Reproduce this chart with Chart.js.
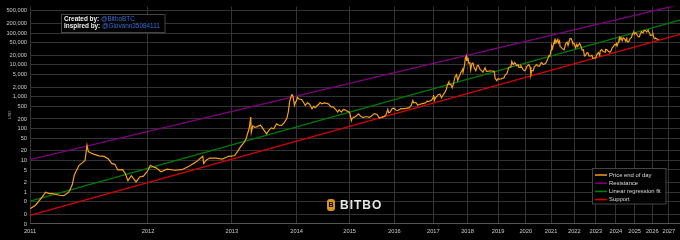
<!DOCTYPE html>
<html>
<head>
<meta charset="utf-8">
<script src="https://cdn.jsdelivr.net/npm/chart.js@4.4.1/dist/chart.umd.min.js"></script>
<style>
  html, body { margin: 0; background: #000; }
  #wrap { width: 680px; height: 240px; }
</style>
</head>
<body>
<div id="wrap"><canvas id="chart"></canvas></div>
<script>
// BTC price (USD), end of day, sampled
const priceDates = [
  '2011-01-01','2011-01-15','2011-02-01','2011-02-10','2011-02-20','2011-03-01','2011-03-20','2011-04-01','2011-04-15','2011-04-25',
  '2011-05-01','2011-05-15','2011-05-25','2011-06-02','2011-06-08','2011-06-12','2011-06-20','2011-07-01','2011-07-15','2011-08-01',
  '2011-08-15','2011-08-25','2011-09-05','2011-09-15','2011-10-01','2011-10-10','2011-10-20','2011-11-01','2011-11-18','2011-12-01',
  '2011-12-15','2011-12-31',
  '2012-01-10','2012-01-20','2012-02-01','2012-02-20','2012-03-15','2012-04-15','2012-05-15','2012-06-15','2012-07-15','2012-08-15',
  '2012-08-19','2012-09-01','2012-09-15','2012-10-15','2012-11-15','2012-12-15','2012-12-31',
  '2013-01-15','2013-02-01','2013-02-15','2013-03-01','2013-03-15','2013-04-01','2013-04-09','2013-04-12','2013-04-20','2013-05-01',
  '2013-05-15','2013-06-01','2013-06-15','2013-07-05','2013-07-20','2013-08-01','2013-08-15','2013-09-01','2013-09-15','2013-10-01',
  '2013-10-15','2013-11-01','2013-11-10','2013-11-18','2013-11-30','2013-12-05','2013-12-10','2013-12-18','2013-12-25','2013-12-31',
  '2014-01-05','2014-01-15','2014-02-01','2014-02-15','2014-02-25','2014-03-10','2014-03-25','2014-04-10','2014-04-20','2014-05-01',
  '2014-05-25','2014-06-03','2014-06-15','2014-07-01','2014-07-20','2014-08-01','2014-08-18','2014-09-01','2014-09-20','2014-10-05',
  '2014-10-15','2014-11-01','2014-11-15','2014-12-01','2014-12-15','2014-12-31',
  '2015-01-05','2015-01-14','2015-01-20','2015-02-01','2015-02-15','2015-03-10','2015-03-25','2015-04-15','2015-05-01','2015-05-20',
  '2015-06-01','2015-06-20','2015-07-10','2015-07-25','2015-08-10','2015-08-25','2015-09-15','2015-10-01','2015-10-20','2015-11-04',
  '2015-11-12','2015-11-25','2015-12-10','2015-12-20','2015-12-31',
  '2016-01-15','2016-02-01','2016-02-15','2016-03-01','2016-03-15','2016-04-15','2016-05-15','2016-06-01','2016-06-16','2016-06-25',
  '2016-07-15','2016-08-02','2016-08-15','2016-09-15','2016-10-15','2016-11-01','2016-11-15','2016-12-01','2016-12-15','2016-12-31',
  '2017-01-04','2017-01-12','2017-01-20','2017-02-01','2017-02-23','2017-03-10','2017-03-25','2017-04-15','2017-05-01','2017-05-15',
  '2017-05-25','2017-06-11','2017-06-15','2017-07-01','2017-07-16','2017-08-01','2017-08-15','2017-09-01','2017-09-14','2017-10-01',
  '2017-10-20','2017-11-08','2017-11-12','2017-11-28','2017-12-07','2017-12-17','2017-12-22','2017-12-31',
  '2018-01-06','2018-01-16','2018-01-28','2018-02-06','2018-02-20','2018-03-05','2018-03-18','2018-04-06','2018-04-24','2018-05-05',
  '2018-05-28','2018-06-15','2018-06-29','2018-07-24','2018-08-10','2018-09-05','2018-09-20','2018-10-15','2018-11-14','2018-11-25',
  '2018-12-15','2018-12-31',
  '2019-01-15','2019-02-08','2019-02-25','2019-03-15','2019-04-02','2019-04-25','2019-05-14','2019-05-30','2019-06-15','2019-06-26',
  '2019-07-15','2019-08-06','2019-08-29','2019-09-20','2019-09-25','2019-10-15','2019-10-26','2019-11-25','2019-12-17','2019-12-31',
  '2020-01-15','2020-02-12','2020-03-01','2020-03-12','2020-03-25','2020-04-15','2020-04-30','2020-05-15','2020-06-01','2020-06-27',
  '2020-07-15','2020-08-01','2020-08-15','2020-09-05','2020-09-25','2020-10-15','2020-10-30','2020-11-15','2020-11-30','2020-12-15',
  '2020-12-31',
  '2021-01-08','2021-01-22','2021-02-08','2021-02-21','2021-02-28','2021-03-13','2021-03-25','2021-04-14','2021-04-25','2021-05-10',
  '2021-05-19','2021-06-01','2021-06-22','2021-07-20','2021-08-15','2021-09-06','2021-09-21','2021-10-20','2021-11-10','2021-11-25',
  '2021-12-04','2021-12-31',
  '2022-01-22','2022-02-10','2022-02-24','2022-03-28','2022-04-15','2022-05-12','2022-06-01','2022-06-18','2022-07-01','2022-07-30',
  '2022-08-15','2022-09-07','2022-10-01','2022-10-25','2022-11-09','2022-11-25','2022-12-30',
  '2023-01-15','2023-02-15','2023-03-10','2023-03-20','2023-04-14','2023-05-12','2023-06-15','2023-06-23','2023-07-15','2023-08-17',
  '2023-09-11','2023-10-01','2023-10-24','2023-11-15','2023-12-08','2023-12-31',
  '2024-01-11','2024-01-23','2024-02-15','2024-02-28','2024-03-13','2024-03-20','2024-04-08','2024-05-01','2024-05-20','2024-06-15',
  '2024-07-05','2024-07-28','2024-08-05','2024-09-06','2024-09-27','2024-10-29','2024-11-11','2024-11-22','2024-12-05','2024-12-16',
  '2024-12-31',
  '2025-01-20','2025-02-03','2025-02-26','2025-03-10','2025-04-08','2025-04-25','2025-05-22','2025-06-22','2025-07-14','2025-08-14',
  '2025-09-01','2025-10-06','2025-10-10','2025-11-04','2025-11-21','2025-12-01','2025-12-15','2025-12-31',
  '2026-01-15','2026-02-05','2026-02-20','2026-03-10','2026-04-01','2026-05-01','2026-05-20'
];
const priceValues = [
  0.30,0.39,0.70,1.00,0.90,0.90,0.80,0.78,1.00,1.70,
  3.50,7.00,8.50,10.0,29.6,19.0,17.0,15.4,13.8,13.3,
  11.0,8.00,7.50,5.00,5.10,4.00,2.30,3.30,2.10,3.00,
  3.20,4.70,
  7.00,6.30,5.80,4.40,5.30,4.90,5.10,6.50,8.80,13.5,
  8.00,10.3,11.8,11.8,11.0,13.4,13.5,
  14.2,20,27,34,47,104,230,75,120,110,
  115,129,100,68,90,105,98,140,127,125,
  150,205,330,700,1130,1150,950,540,680,750,
  960,850,820,650,530,640,580,420,500,450,
  580,660,600,640,620,590,480,480,400,330,
  390,330,400,380,350,320,
  275,178,210,225,240,290,247,220,235,235,
  225,245,290,290,265,210,230,237,270,400,
  310,330,415,440,430,
  375,370,400,430,415,430,455,535,760,640,
  660,540,570,610,640,730,710,750,780,965,
  1130,780,900,990,1180,1200,930,1180,1420,1720,
  2300,2950,2450,2450,1920,2730,4200,4900,3250,4400,
  5900,7400,5900,9700,16000,19200,13800,13800,
  17000,11300,11700,7000,11200,11500,8200,6600,9600,9700,
  7100,6500,5900,8200,6300,6400,6500,6450,6300,3800,
  3200,3700,
  3600,3650,3800,3900,4900,5400,8000,8600,8800,12900,
  10200,11800,9500,10200,8500,8300,9500,7100,6600,7200,
  8800,10300,8600,4900,6700,6600,8700,9300,10200,9100,
  9200,11300,11800,10300,10700,11500,13500,16000,19600,19400,
  29000,
  40500,33000,46000,57500,45000,61000,52000,63500,49000,56000,
  37000,36500,32500,29800,47000,52000,41000,66000,67500,57000,
  49000,46300,
  35000,44000,38000,47300,40500,28900,30000,19000,19300,24000,
  24200,18900,19300,20000,16000,16500,16500,
  20800,24300,20200,28000,30500,26400,25100,30700,30300,26600,
  25200,27000,34500,37800,44000,42300,
  46500,39500,52000,62500,73000,62500,71600,57500,71000,66000,
  56600,68200,54000,53900,66000,72700,88700,98900,98800,106100,
  93400,
  102000,97700,84000,78500,76300,94700,111000,101000,122000,118500,
  108000,124700,113000,101000,85000,86500,86000,87500,
  95000,70000,67000,70000,66000,64000,62000
];

// power-law bands, value at the left and right edge of the plot
const xRange = ['2011-01-01', '2027-09-15'];
const resistanceValues = [10.5, 790000];
const regressionValues = [0.52, 257000];
const supportValues = [0.187, 91000];

const yearLabels = ['2011','2012','2013','2014','2015','2016','2017','2018','2019',
  '2020','2021','2022','2023','2024','2025','2026','2027'];
const yTickValues = [0.1, 0.2, 0.5, 1, 2, 5, 10, 20, 50, 100, 200, 500, 1000, 2000, 5000,
  10000, 20000, 50000, 100000, 200000, 500000];

const GENESIS = Date.parse('2009-01-03');
const days = s => (Date.parse(s) - GENESIS) / 864e5;

const FONT = "'Liberation Sans', Arial, sans-serif";
const series = [
  { label: 'Price end of day', color: '#f5a01a' },
  { label: 'Resistance', color: '#800080' },
  { label: 'Linear regression fit', color: '#008000' },
  { label: 'Support', color: '#e00000' }
];

const overlay = {
  id: 'overlay',
  afterDraw(chart) {
    const ctx = chart.ctx;
    ctx.save();

    // y title
    ctx.save();
    ctx.translate(10, 115);
    ctx.rotate(-Math.PI / 2);
    ctx.fillStyle = '#999';
    ctx.font = '4px ' + FONT;
    ctx.textAlign = 'center';
    ctx.textBaseline = 'middle';
    ctx.fillText('USD', 0, 0);
    ctx.restore();

    // credit box
    ctx.fillStyle = 'rgba(0,0,0,0.85)';
    ctx.fillRect(61.5, 14.5, 103.5, 18);
    ctx.strokeStyle = '#444';
    ctx.lineWidth = 1;
    ctx.strokeRect(61.5, 14.5, 103.5, 18);
    ctx.textBaseline = 'middle';
    ctx.textAlign = 'left';
    const credit = [['Created by: ', '@BitboBTC', 19.5], ['Inspired by: ', '@Giovann35084111', 26.5]];
    for (const [a, b, y] of credit) {
      ctx.font = 'bold 6.4px ' + FONT;
      ctx.fillStyle = '#f0f0f0';
      ctx.fillText(a, 64, y);
      const w = ctx.measureText(a).width;
      ctx.font = '6.4px ' + FONT;
      ctx.fillStyle = '#3a6fd8';
      ctx.fillText(b, 64 + w, y);
    }

    // legend
    ctx.fillStyle = 'rgba(0,0,0,0.9)';
    ctx.fillRect(592.5, 168.5, 73.5, 35.5);
    ctx.strokeStyle = '#444';
    ctx.strokeRect(592.5, 168.5, 73.5, 35.5);
    ctx.font = '5.9px ' + FONT;
    series.forEach((s, i) => {
      const y = 175 + i * 8.2;
      ctx.strokeStyle = s.color;
      ctx.lineWidth = 1.5;
      ctx.beginPath();
      ctx.moveTo(595, y);
      ctx.lineTo(607, y);
      ctx.stroke();
      ctx.fillStyle = '#ddd';
      ctx.fillText(s.label, 609, y);
    });

    // watermark
    ctx.fillStyle = '#d8961c';
    ctx.beginPath();
    ctx.roundRect(327, 199, 8, 12, 3);
    ctx.fill();
    ctx.fillStyle = '#000';
    ctx.font = 'bold 7px ' + FONT;
    ctx.textAlign = 'center';
    ctx.fillText('B', 331, 205.5);
    ctx.fillStyle = '#e6e6e6';
    ctx.font = 'bold 12px ' + FONT;
    ctx.textAlign = 'left';
    ctx.letterSpacing = '1px';
    ctx.fillText('BITBO', 340, 205.5);
    ctx.restore();
  }
};

const toPoints = (dates, vals) => dates.map((d, i) => ({ x: days(d), y: vals[i] }));

const lineStyle = (color, w) => ({
  borderColor: color, backgroundColor: color, borderWidth: w,
  pointRadius: 0, tension: 0, fill: false
});

new Chart(document.getElementById('chart'), {
  type: 'line',
  data: {
    datasets: [
      { label: series[0].label, data: toPoints(priceDates, priceValues), ...lineStyle(series[0].color, 1.2) },
      { label: series[1].label, data: toPoints(xRange, resistanceValues), ...lineStyle(series[1].color, 1.3) },
      { label: series[2].label, data: toPoints(xRange, regressionValues), ...lineStyle(series[2].color, 1.3) },
      { label: series[3].label, data: toPoints(xRange, supportValues), ...lineStyle(series[3].color, 1.3) }
    ]
  },
  options: {
    animation: false,
    responsive: true,
    maintainAspectRatio: false,
    layout: { padding: { top: 5, right: 0, left: 0, bottom: 0 } },
    plugins: { legend: { display: false }, tooltip: { enabled: false } },
    scales: {
      x: {
        type: 'logarithmic',
        min: days(xRange[0]),
        max: days(xRange[1]),
        afterBuildTicks: s => { s.ticks = yearLabels.map(y => ({ value: days(y + '-01-01') })); },
        afterFit: s => { s.height = 16; },
        ticks: {
          callback: (v, i) => yearLabels[i],
          autoSkip: false, maxRotation: 0, padding: 4,
          color: '#ccc', font: { family: FONT, size: 5.7 }
        },
        grid: { color: '#333', drawTicks: false },
        border: { color: '#555' }
      },
      y: {
        type: 'logarithmic',
        min: 0.1,
        max: 690000,
        afterBuildTicks: s => { s.ticks = yTickValues.map(v => ({ value: v })); },
        afterFit: s => { s.width = 30; },
        ticks: {
          callback: v => v >= 1 ? v.toLocaleString('en-US') : '0',
          autoSkip: false, padding: 3,
          color: '#ccc', font: { family: FONT, size: 5.7 }
        },
        grid: { color: '#333', drawTicks: false },
        border: { display: false }
      }
    }
  },
  plugins: [overlay]
});
</script>
</body>
</html>
